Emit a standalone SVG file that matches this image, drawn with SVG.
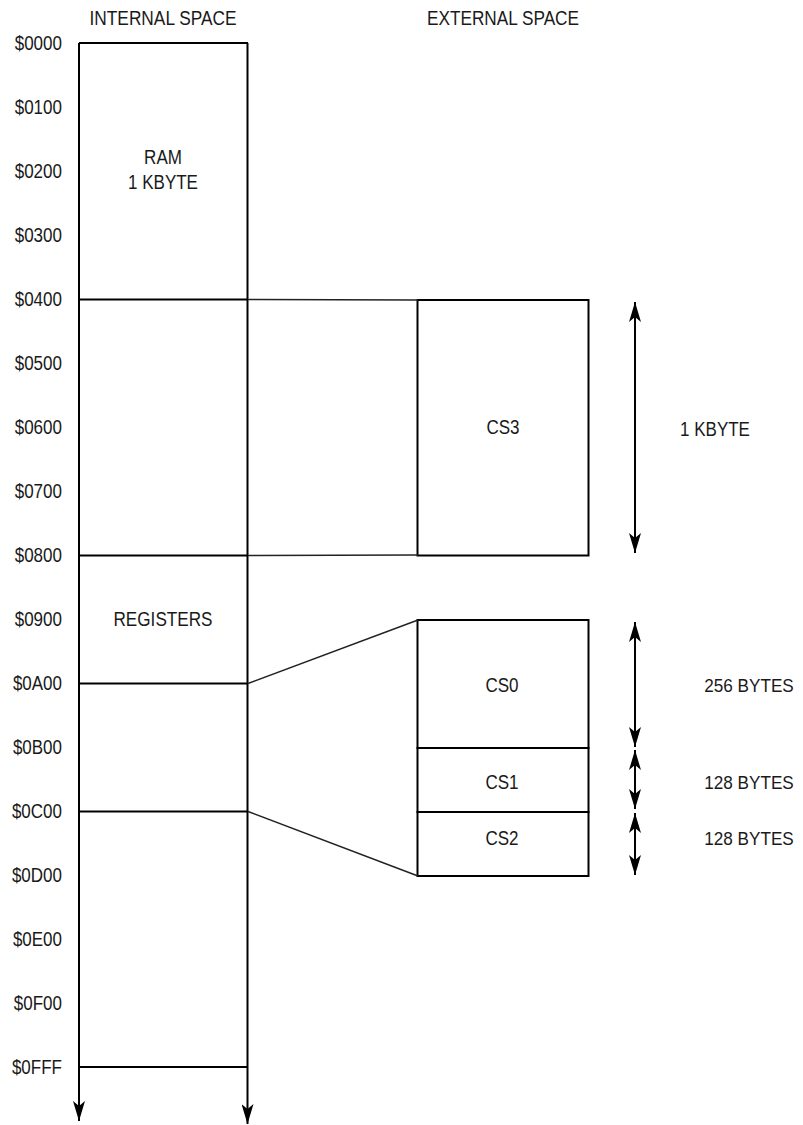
<svg xmlns="http://www.w3.org/2000/svg" width="803" height="1125" viewBox="0 0 803 1125">
  <style>
    text { font-family: "Liberation Sans", Arial, sans-serif; font-size: 20px; fill: #1a1a1a; }
    .addr { text-anchor: end; }
    .mid { text-anchor: middle; }
    .sz { font-size: 18.5px; }
    .box { fill: none; stroke: #000; stroke-width: 2; }
    .edge { stroke: #000; stroke-width: 2; fill: none; }
    .link { stroke: #222; stroke-width: 1.5; fill: none; }
  </style>
  <defs>
    <marker id="arr" viewBox="0 0 20 12" refX="20" refY="6" markerWidth="20" markerHeight="12" markerUnits="userSpaceOnUse" orient="auto-start-reverse">
      <path d="M20,6 L0,0 L5,6 L0,12 Z" fill="#000"/>
    </marker>
  </defs>
  <rect width="803" height="1125" fill="#fff"/>

  <g id="headers">
    <text class="mid" x="163" y="25" textLength="147" lengthAdjust="spacingAndGlyphs">INTERNAL SPACE</text>
    <text class="mid" x="503" y="25" textLength="152" lengthAdjust="spacingAndGlyphs">EXTERNAL SPACE</text>
  </g>

  <g id="addresses">
    <text class="addr" x="62" y="50" textLength="47.3" lengthAdjust="spacingAndGlyphs">$0000</text>
    <text class="addr" x="62" y="114" textLength="47.3" lengthAdjust="spacingAndGlyphs">$0100</text>
    <text class="addr" x="62" y="178" textLength="47.3" lengthAdjust="spacingAndGlyphs">$0200</text>
    <text class="addr" x="62" y="242" textLength="47.3" lengthAdjust="spacingAndGlyphs">$0300</text>
    <text class="addr" x="62" y="306" textLength="47.3" lengthAdjust="spacingAndGlyphs">$0400</text>
    <text class="addr" x="62" y="370" textLength="47.3" lengthAdjust="spacingAndGlyphs">$0500</text>
    <text class="addr" x="62" y="434" textLength="47.3" lengthAdjust="spacingAndGlyphs">$0600</text>
    <text class="addr" x="62" y="498" textLength="47.3" lengthAdjust="spacingAndGlyphs">$0700</text>
    <text class="addr" x="62" y="562" textLength="47.3" lengthAdjust="spacingAndGlyphs">$0800</text>
    <text class="addr" x="62" y="626" textLength="47.3" lengthAdjust="spacingAndGlyphs">$0900</text>
    <text class="addr" x="62" y="690" textLength="49.1" lengthAdjust="spacingAndGlyphs">$0A00</text>
    <text class="addr" x="62" y="754" textLength="49.1" lengthAdjust="spacingAndGlyphs">$0B00</text>
    <text class="addr" x="62" y="818" textLength="50.1" lengthAdjust="spacingAndGlyphs">$0C00</text>
    <text class="addr" x="62" y="882" textLength="50.1" lengthAdjust="spacingAndGlyphs">$0D00</text>
    <text class="addr" x="62" y="946" textLength="49.1" lengthAdjust="spacingAndGlyphs">$0E00</text>
    <text class="addr" x="62" y="1010" textLength="48.2" lengthAdjust="spacingAndGlyphs">$0F00</text>
    <text class="addr" x="62" y="1074" textLength="50.1" lengthAdjust="spacingAndGlyphs">$0FFF</text>
  </g>

  <g id="internal-space">
    <line class="edge" x1="79" y1="43" x2="248" y2="43"/>
    <line class="edge" x1="79" y1="43" x2="79" y2="1121" marker-end="url(#arr)"/>
    <line class="edge" x1="247.5" y1="43" x2="247.5" y2="1124" marker-end="url(#arr)"/>
  </g>

  <g id="ram">
    <text class="mid" x="163" y="164" textLength="37.8" lengthAdjust="spacingAndGlyphs">RAM</text>
    <text class="mid" x="163" y="189" textLength="69.9" lengthAdjust="spacingAndGlyphs">1 KBYTE</text>
    <line class="edge" x1="79" y1="299.5" x2="248" y2="299.5"/>
  </g>

  <g id="cs3-window">
    <line class="edge" x1="79" y1="555.5" x2="248" y2="555.5"/>
  </g>

  <g id="registers">
    <text class="mid" x="163" y="626" textLength="99" lengthAdjust="spacingAndGlyphs">REGISTERS</text>
    <line class="edge" x1="79" y1="683.5" x2="248" y2="683.5"/>
  </g>

  <g id="cs-window">
    <line class="edge" x1="79" y1="811.5" x2="248" y2="811.5"/>
  </g>

  <g id="end">
    <line class="edge" x1="79" y1="1067" x2="248" y2="1067"/>
  </g>

  <g id="cs3">
    <rect class="box" x="417.5" y="300" width="171" height="255.5"/>
    <text class="mid" x="503" y="434" textLength="33.1" lengthAdjust="spacingAndGlyphs">CS3</text>
  </g>

  <g id="cs0">
    <rect class="box" x="417.5" y="620" width="171" height="128"/>
    <text class="mid" x="502" y="692" textLength="33.1" lengthAdjust="spacingAndGlyphs">CS0</text>
  </g>

  <g id="cs1">
    <rect class="box" x="417.5" y="748" width="171" height="64"/>
    <text class="mid" x="502" y="789" textLength="33.1" lengthAdjust="spacingAndGlyphs">CS1</text>
  </g>

  <g id="cs2">
    <rect class="box" x="417.5" y="812" width="171" height="64"/>
    <text class="mid" x="502" y="845" textLength="33.1" lengthAdjust="spacingAndGlyphs">CS2</text>
  </g>

  <g id="sizes">
    <text class="mid" x="715" y="436" textLength="69.9" lengthAdjust="spacingAndGlyphs">1 KBYTE</text>
    <text class="mid sz" x="749" y="692" textLength="89.5" lengthAdjust="spacingAndGlyphs">256 BYTES</text>
    <text class="mid sz" x="749" y="789" textLength="89.5" lengthAdjust="spacingAndGlyphs">128 BYTES</text>
    <text class="mid sz" x="749" y="845" textLength="89.5" lengthAdjust="spacingAndGlyphs">128 BYTES</text>
  </g>

  <g id="connectors">
    <line class="link" x1="248" y1="299.5" x2="418" y2="300"/>
    <line class="link" x1="248" y1="555.5" x2="418" y2="555"/>
    <line class="link" x1="248" y1="683.5" x2="418" y2="620"/>
    <line class="link" x1="248" y1="811.5" x2="418" y2="876"/>
    <line class="edge" x1="635" y1="302" x2="635" y2="553" marker-start="url(#arr)" marker-end="url(#arr)"/>
    <line class="edge" x1="635" y1="622" x2="635" y2="747" marker-start="url(#arr)" marker-end="url(#arr)"/>
    <line class="edge" x1="635" y1="750" x2="635" y2="809" marker-start="url(#arr)" marker-end="url(#arr)"/>
    <line class="edge" x1="635" y1="813" x2="635" y2="875" marker-start="url(#arr)" marker-end="url(#arr)"/>
  </g>
</svg>
